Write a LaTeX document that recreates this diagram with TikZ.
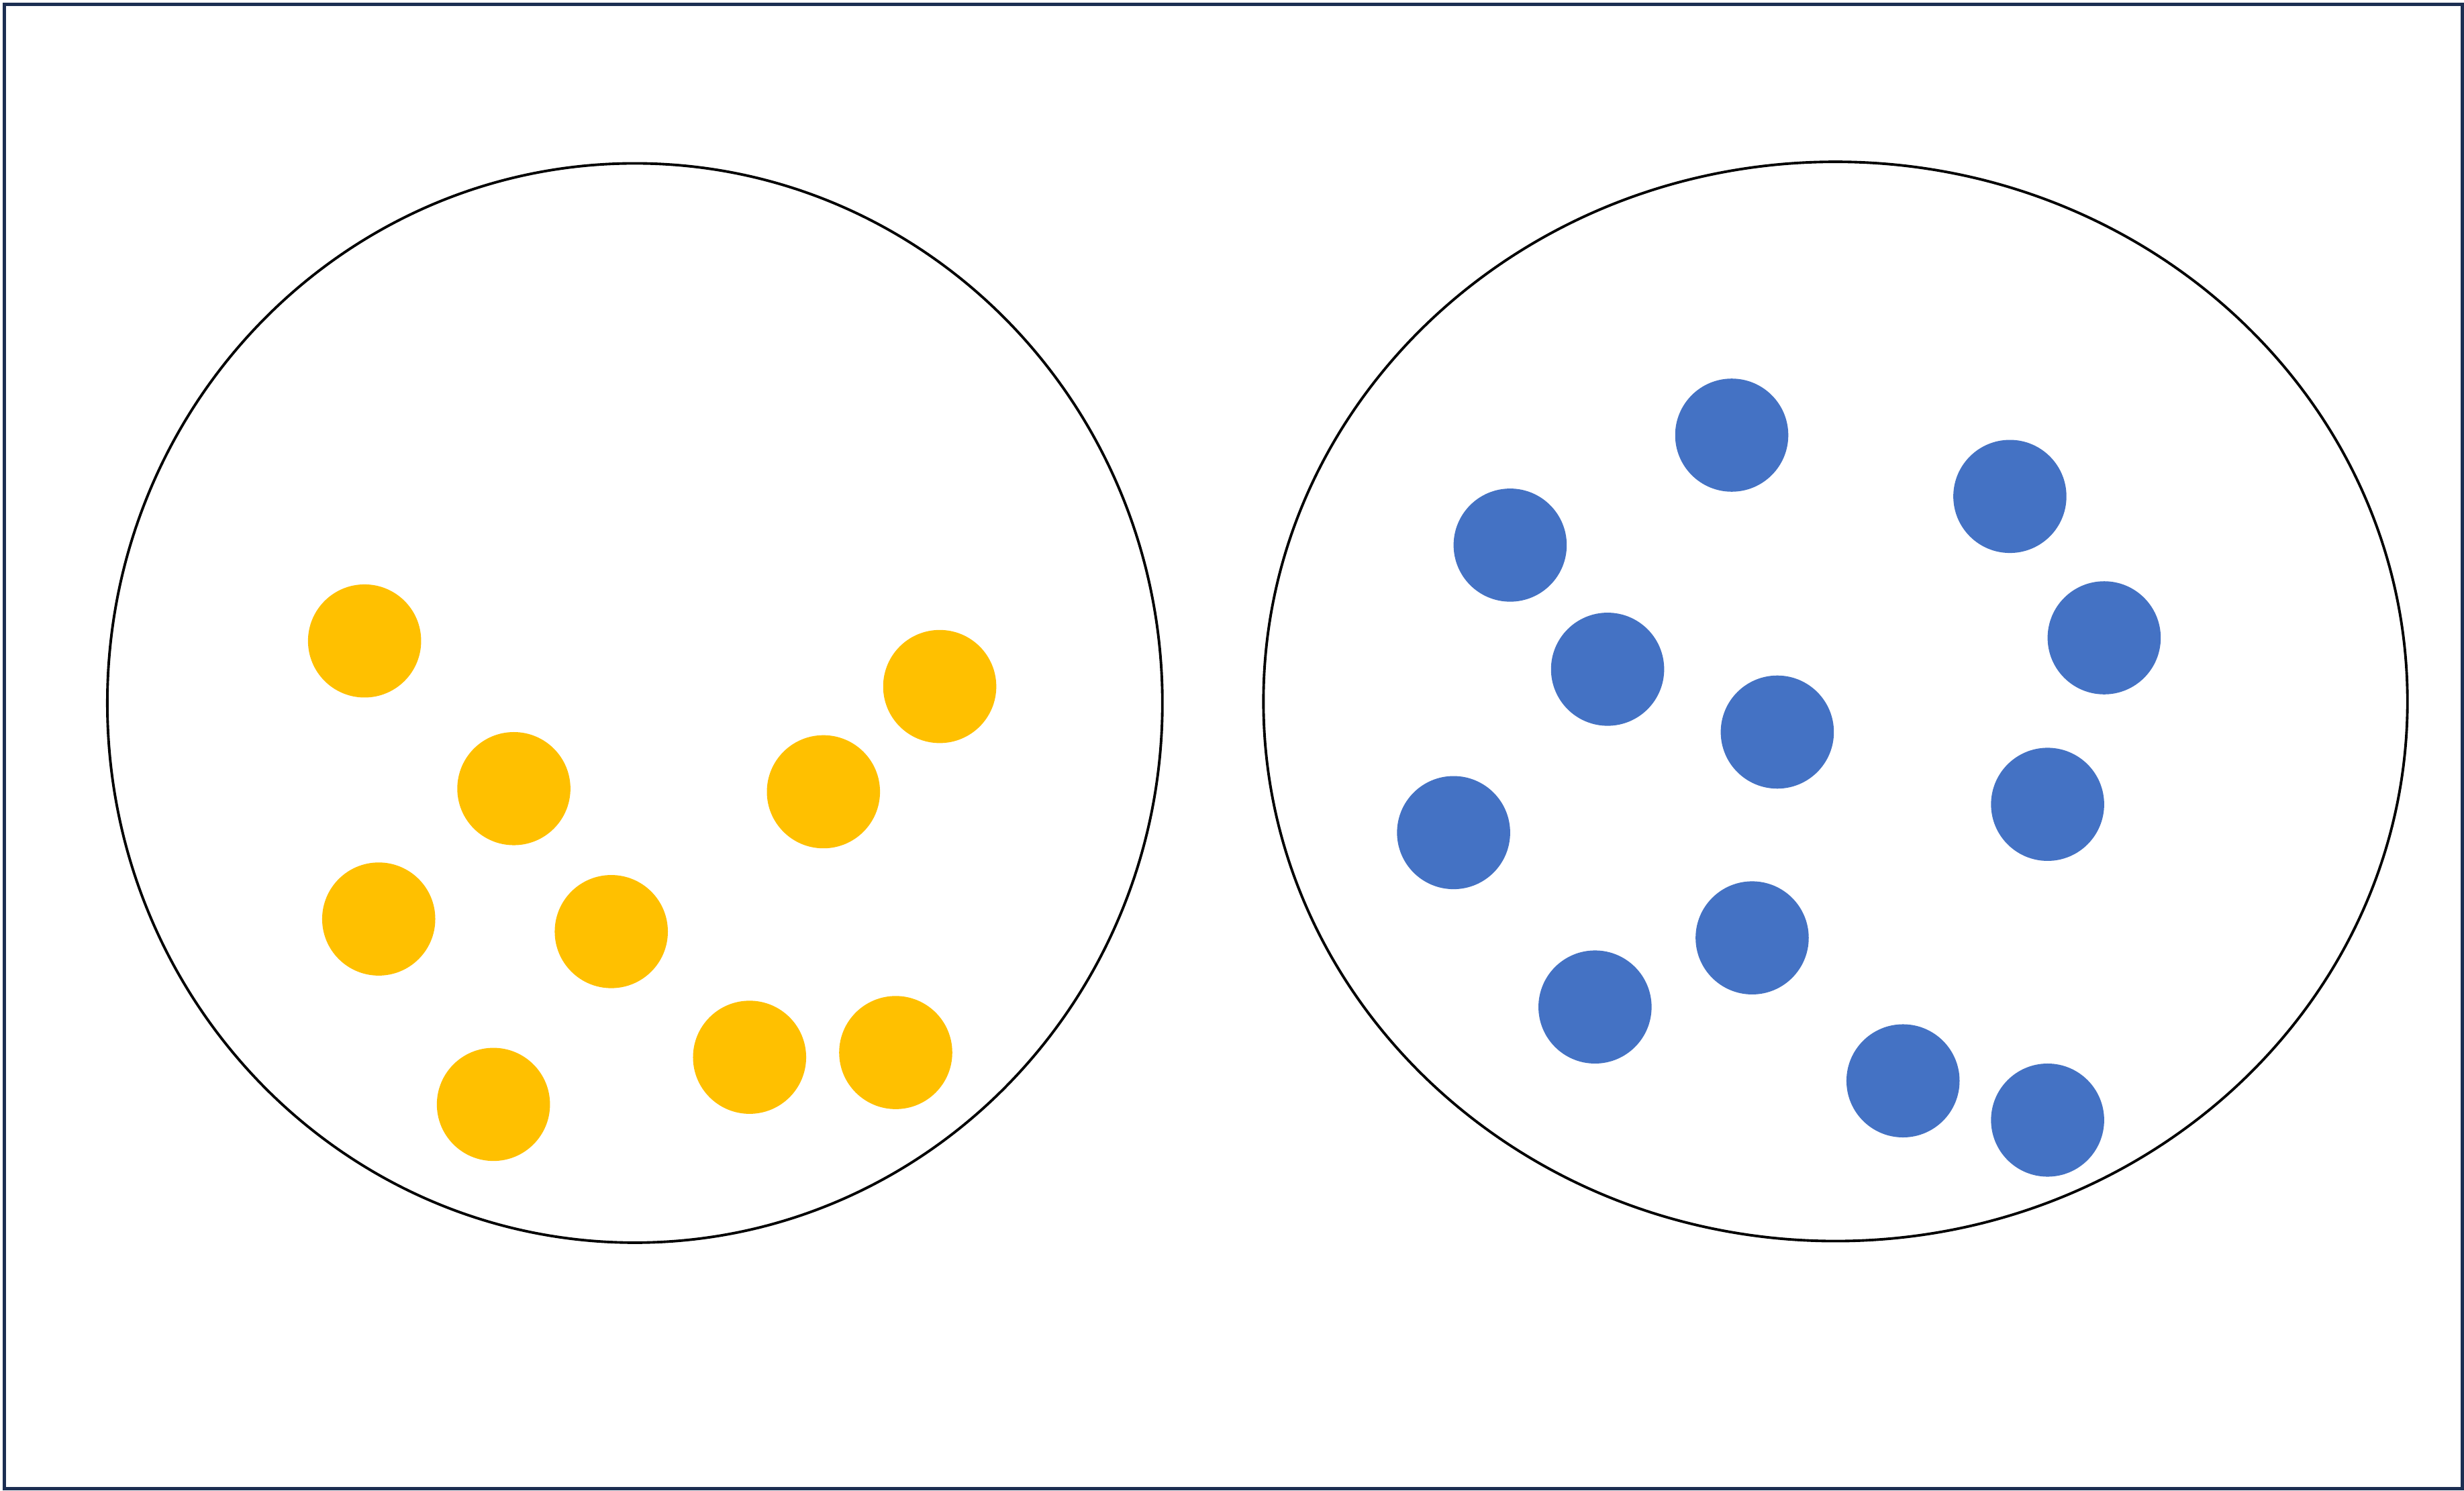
\documentclass[tikz,border=0pt]{standalone}
\usepackage{xcolor}
\usepackage{tikz}
\definecolor{framenavy}{HTML}{1C2E52}
\definecolor{dotyellow}{HTML}{FFC000}
\definecolor{dotblue}{HTML}{4472C4}
\tikzset{
  groupoutline/.style={draw=black, line width=1.1pt},
  yellowdot/.style={fill=dotyellow},
  bluedot/.style={fill=dotblue}
}
\begin{document}
\begin{tikzpicture}[x=0.023412cm, y=0.023412cm]
  \useasboundingbox (0,0) rectangle (1568,949);

  % ----- Outer frame -----
  \draw[framenavy, line width=1.42pt] (2.8,1.6) rectangle (1566.7,946.2);

  % ----- Left: yellow group -----
  \begin{scope}
    \draw[groupoutline] (404,501.5) ellipse (335.7 and 343.5);
    \foreach \x/\y in {232/541, 598/512, 327/447, 524/445, 241/364,
                       389/356, 477/276, 570/279, 314/246} {
      \fill[yellowdot] (\x,\y) circle (36);
    }
  \end{scope}

  % ----- Right: blue group -----
  \begin{scope}
    \draw[groupoutline] (1168,502.5) ellipse (364 and 343.5);
    \foreach \x/\y in {1102/672, 961/602, 1279/633, 1023/523, 1131/483,
                       1339/543, 925/419, 1303/437, 1115/352, 1015/308,
                       1211/261, 1303/236} {
      \fill[bluedot] (\x,\y) circle (36);
    }
  \end{scope}

\end{tikzpicture}
\end{document}
